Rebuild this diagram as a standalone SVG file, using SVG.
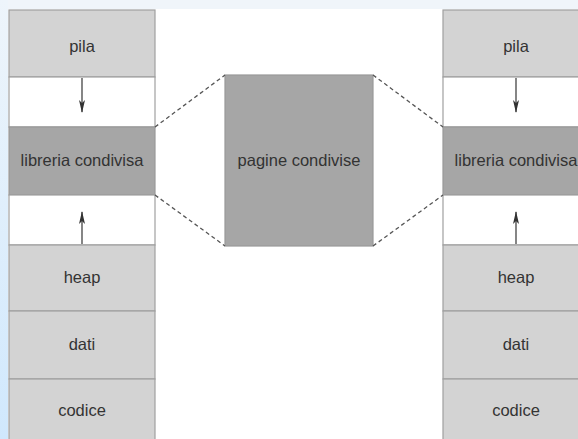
<svg xmlns="http://www.w3.org/2000/svg" width="578" height="439" viewBox="0 0 578 439">
<defs>
<linearGradient id="lg" x1="0" y1="0" x2="0" y2="1">
<stop offset="0" stop-color="#eef5fb"/>
<stop offset="1" stop-color="#d0e8fd"/>
</linearGradient>
<marker id="ah" markerWidth="13" markerHeight="6" refX="12" refY="3" orient="auto" markerUnits="userSpaceOnUse" viewBox="0 0 13 6">
<path d="M0,0 L13,3 L0,6 L3,3 Z" fill="#333"/>
</marker>
<style>
.lt{fill:#d3d3d3;stroke:#a0a0a0;stroke-width:1.2}
.dk{fill:#a6a6a6;stroke:#999;stroke-width:1.2}
.wh{fill:#fff;stroke:#a0a0a0;stroke-width:1.2}
text{font-family:"Liberation Sans",Arial,sans-serif;font-size:16.5px;fill:#333;text-anchor:middle}
.dash{stroke:#555;stroke-width:1.3;stroke-dasharray:4,3;fill:none}
.arr{stroke:#444;stroke-width:1.3;fill:none}
</style>
</defs>
<rect x="0" y="0" width="578" height="439" fill="#fff"/>
<rect x="0" y="0" width="578" height="9" fill="#f0f5fa"/>
<rect x="0" y="0" width="8" height="439" fill="url(#lg)"/>
<g id="left">
<g id="l-pila"><rect class="lt" x="9" y="10" width="146" height="67"/><text x="82" y="52">pila</text></g>
<rect class="wh" x="9" y="77" width="146" height="50"/>
<g id="l-lib"><rect class="dk" x="9" y="127" width="146" height="68"/><text x="82" y="166">libreria condivisa</text></g>
<rect class="wh" x="9" y="195" width="146" height="50"/>
<g id="l-heap"><rect class="lt" x="9" y="245" width="146" height="66"/><text x="82" y="283">heap</text></g>
<g id="l-dati"><rect class="lt" x="9" y="311" width="146" height="68"/><text x="82" y="350">dati</text></g>
<g id="l-codice"><rect class="lt" x="9" y="379" width="146" height="66"/><text x="82" y="416">codice</text></g>
</g>
<g id="middle">
<rect class="dk" x="225" y="75" width="148" height="171"/>
<text x="299" y="166">pagine condivise</text>
</g>
<g id="right">
<g id="r-pila"><rect class="lt" x="443" y="10" width="146" height="67"/><text x="516" y="52">pila</text></g>
<rect class="wh" x="443" y="77" width="146" height="50"/>
<g id="r-lib"><rect class="dk" x="443" y="127" width="146" height="68"/><text x="516" y="166">libreria condivisa</text></g>
<rect class="wh" x="443" y="195" width="146" height="50"/>
<g id="r-heap"><rect class="lt" x="443" y="245" width="146" height="66"/><text x="516" y="283">heap</text></g>
<g id="r-dati"><rect class="lt" x="443" y="311" width="146" height="68"/><text x="516" y="350">dati</text></g>
<g id="r-codice"><rect class="lt" x="443" y="379" width="146" height="66"/><text x="516" y="416">codice</text></g>
</g>
<g id="connectors">
<line class="arr" x1="82" y1="78" x2="82" y2="112" marker-end="url(#ah)"/>
<line class="arr" x1="82" y1="244" x2="82" y2="212" marker-end="url(#ah)"/>
<line class="arr" x1="516" y1="78" x2="516" y2="112" marker-end="url(#ah)"/>
<line class="arr" x1="516" y1="244" x2="516" y2="212" marker-end="url(#ah)"/>
<line class="dash" x1="155" y1="127" x2="225" y2="75"/>
<line class="dash" x1="155" y1="195" x2="225" y2="246"/>
<line class="dash" x1="373" y1="75" x2="443" y2="127"/>
<line class="dash" x1="373" y1="246" x2="443" y2="195"/>
</g>
</svg>
